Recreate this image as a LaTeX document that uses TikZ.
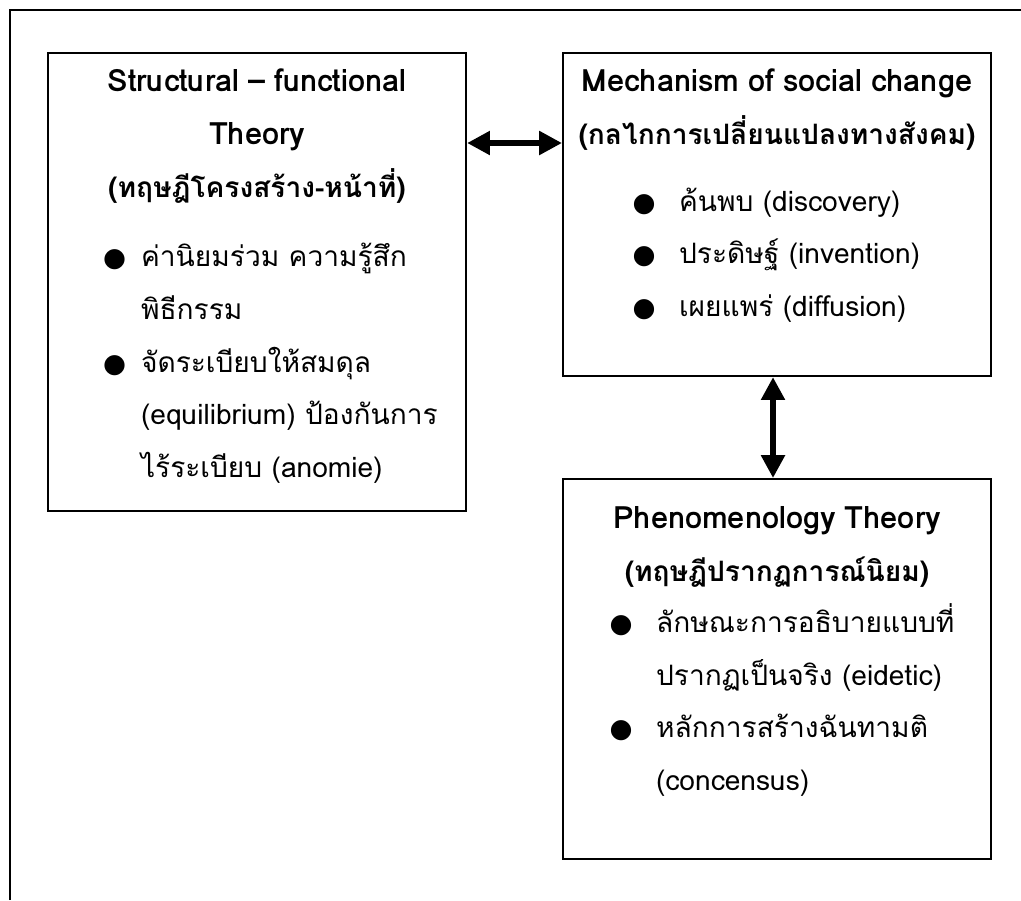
\documentclass[tikz,border=0pt]{standalone}
\usepackage{fontspec}
\setmainfont[Script=Thai]{Loma}
\newfontfamily\dotfont{DejaVu Sans}
\usetikzlibrary{positioning,arrows.meta}

\newcommand{\hd}[2][17.5]{{\centering\fontsize{#1}{30}\selectfont\bfseries #2\par}}
\newcommand{\blt}{{\dotfont\fontsize{15}{15}\selectfont ●}}
% #1 bullet offset, #2 text offset, #3 text
\newcommand{\itm}[3]{{\hangindent=#2\hangafter=1\noindent\makebox[#2][l]{\hspace*{#1}\blt}#3\par}}

\tikzset{
  box/.style={draw, line width=1.2pt, inner sep=0pt, anchor=north west},
  txt/.style={inner sep=0pt, align=left, font=\fontsize{16}{30}\selectfont},
  dblarrow/.style={line width=3.2pt, {Triangle[length=13pt,width=13pt]}-{Triangle[length=13pt,width=13pt]}}
}

\begin{document}
\begin{tikzpicture}
  \useasboundingbox (0,0) rectangle (20.42,-18);
  % page frame
  \draw[line width=0.8pt] (0.2,-18) -- (0.2,-0.2) -- (20.42,-0.2);

  \node (stf) [box, minimum width=8.36cm, minimum height=9.16cm] at (0.94,-1.04) {};
  \node (msc) [box, minimum width=8.56cm, minimum height=6.46cm] at (11.24,-1.04) {};
  \node (phe) [box, minimum width=8.56cm, minimum height=7.6cm] at (11.24,-9.56) {};

  \node (stftxt) [txt, text width=8.36cm, below=0.33cm of stf.north] {%
    \hd{Structural – functional}
    \hd{Theory}
    \hd[16]{(ทฤษฎีโครงสร้าง-หน้าที่)}
    \vspace{0.34cm}
    \itm{1.1cm}{1.86cm}{ค่านิยมร่วม ความรู้สึก\newline พิธีกรรม}
    \itm{1.1cm}{1.86cm}{จัดระเบียบให้สมดุล\newline (equilibrium) ป้องกันการ\newline ไร้ระเบียบ (anomie)}};
  \node (msctxt) [txt, text width=8.56cm, below=0.33cm of msc.north] {%
    \hd{Mechanism of social change}
    \hd[16]{(กลไกการเปลี่ยนแปลงทางสังคม)}
    \vspace{0.28cm}
    \itm{1.39cm}{2.32cm}{ค้นพบ (discovery)}
    \itm{1.39cm}{2.32cm}{ประดิษฐ์ (invention)}
    \itm{1.39cm}{2.32cm}{เผยแพร่ (diffusion)}};
  \node (phetxt) [txt, text width=8.56cm, below=0.57cm of phe.north] {%
    \hd{Phenomenology Theory}
    \hd[16]{(ทฤษฎีปรากฏการณ์นิยม)}
    \vspace{-0.04cm}
    \itm{0.93cm}{1.86cm}{ลักษณะการอธิบายแบบที่\newline ปรากฏเป็นจริง (eidetic)}
    \itm{0.93cm}{1.86cm}{หลักการสร้างฉันทามติ\newline (concensus)}};

  \draw[dblarrow] (stf.east |- 0,-2.86) -- (msc.west |- 0,-2.86);
  \draw[dblarrow] (msc.south -| 15.46,0) -- (phe.north -| 15.46,0);
\end{tikzpicture}
\end{document}
